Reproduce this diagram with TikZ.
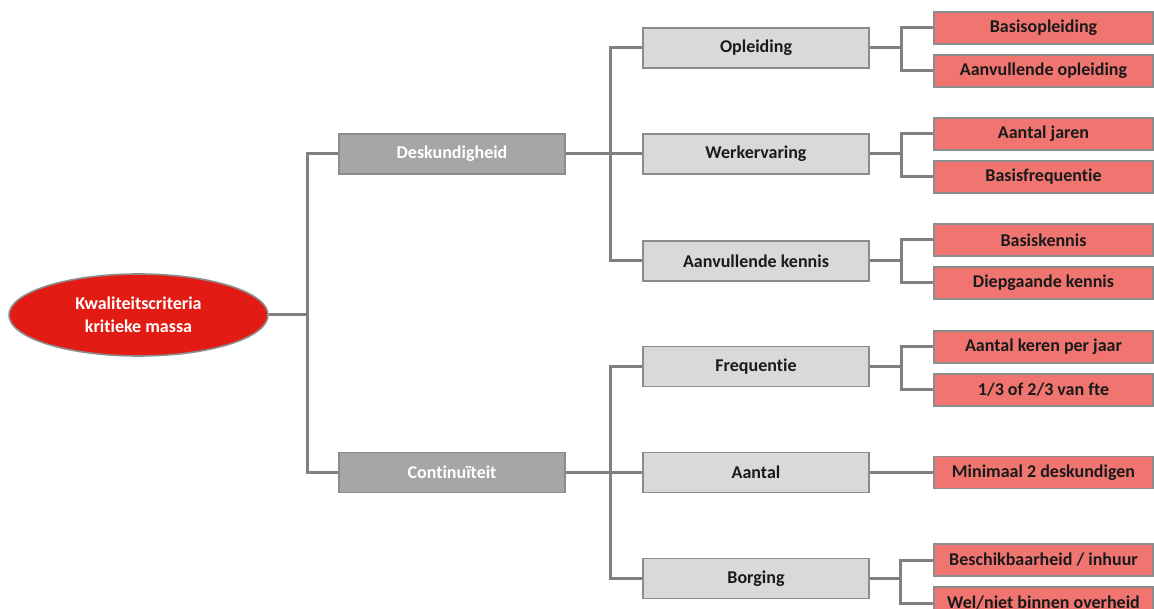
\documentclass[tikz,border=0pt]{standalone}
\usepackage{fontspec}
\setmainfont{Carlito}[Ligatures=NoCommon]
\usetikzlibrary{shapes.geometric}
\definecolor{lineg}{HTML}{808080}
\definecolor{bordg}{HTML}{8C8C8C}
\definecolor{darkg}{HTML}{A6A6A6}
\definecolor{lightg}{HTML}{D9D9D9}
\definecolor{redbox}{HTML}{F07570}
\definecolor{redell}{HTML}{E21C14}
\definecolor{txt}{HTML}{1A1A1A}
\tikzset{
  base/.style={rectangle, draw=bordg, line width=1.6pt, inner sep=0pt, font=\fontsize{18}{21}\selectfont\bfseries},
  lvlone/.style={base, fill=darkg, text=white, minimum width=226pt, minimum height=40pt},
  lvltwo/.style={base, fill=lightg, text=txt, minimum width=226pt, minimum height=40pt},
  lvlthree/.style={base, fill=redbox, text=txt, minimum width=219pt, minimum height=32pt},
  conn/.style={draw=lineg, line width=3pt},
}
\begin{document}
\begin{tikzpicture}[x=1pt,y=-1pt]
\useasboundingbox (0,0) rectangle (1154,609);
% root
\node[ellipse, draw=bordg, line width=1.6pt, fill=redell, text=white, minimum width=259pt, minimum height=82pt, inner sep=0pt, align=center, font=\fontsize{18}{23}\selectfont\bfseries] (root) at (138.5,315) {Kwaliteitscriteria\\kritieke massa};
% level 1
\node[lvlone] (desk) at (452,154) {Deskundigheid};
\node[lvlone] (cont) at (452,472.5) {Continuïteit};
% level 2
\node[lvltwo] (opl) at (756,48) {Opleiding};
\node[lvltwo] (werk) at (756,154) {Werkervaring};
\node[lvltwo] (ak) at (756,261) {Aanvullende kennis};
\node[lvltwo] (freq) at (756,366.5) {Frequentie};
\node[lvltwo] (aant) at (756,472.5) {Aantal};
\node[lvltwo] (borg) at (756,578.5) {Borging};
% level 3
\node[lvlthree] (r1) at (1043.5,28) {Basisopleiding};
\node[lvlthree] (r2) at (1043.5,71) {Aanvullende opleiding};
\node[lvlthree] (r3) at (1043.5,134) {Aantal jaren};
\node[lvlthree] (r4) at (1043.5,177) {Basisfrequentie};
\node[lvlthree] (r5) at (1043.5,240) {Basiskennis};
\node[lvlthree] (r6) at (1043.5,283) {Diepgaande kennis};
\node[lvlthree] (r7) at (1043.5,347) {Aantal keren per jaar};
\node[lvlthree] (r8) at (1043.5,390) {1/3 of 2/3 van fte};
\node[lvlthree] (r9) at (1043.5,472.5) {Minimaal 2 deskundigen};
\node[lvlthree] (r10) at (1043.5,560) {Beschikbaarheid / inhuur};
\node[lvlthree] (r11) at (1043.5,603) {Wel/niet binnen overheid};
% junction coordinates
\coordinate (j0) at (307,315);
\coordinate (j1) at (610,154);
\coordinate (j2) at (610,472.5);
\coordinate (ja) at (901,48);
\coordinate (jb) at (901,154);
\coordinate (jc) at (901,261);
\coordinate (jd) at (901,366.5);
\coordinate (jf) at (900,578.5);
% connectors
\draw[conn] (root.east) -- (j0);
\draw[conn] (desk.west) -| (j0) |- (cont.west);
\draw[conn] (desk.east) -- (werk.west);
\draw[conn] (opl.west) -| (j1) |- (ak.west);
\draw[conn] (cont.east) -- (aant.west);
\draw[conn] (freq.west) -| (j2) |- (borg.west);
\draw[conn] (opl.east) -- (ja);
\draw[conn] (r1.west) -| (ja) |- (r2.west);
\draw[conn] (werk.east) -- (jb);
\draw[conn] (r3.west) -| (jb) |- (r4.west);
\draw[conn] (ak.east) -- (jc);
\draw[conn] (r5.west) -| (jc) |- (r6.west);
\draw[conn] (freq.east) -- (jd);
\draw[conn] (r7.west) -| (jd) |- (r8.west);
\draw[conn] (aant.east) -- (r9.west);
\draw[conn] (borg.east) -- (jf);
\draw[conn] (r10.west) -| (jf) |- (r11.west);
\end{tikzpicture}
\end{document}
